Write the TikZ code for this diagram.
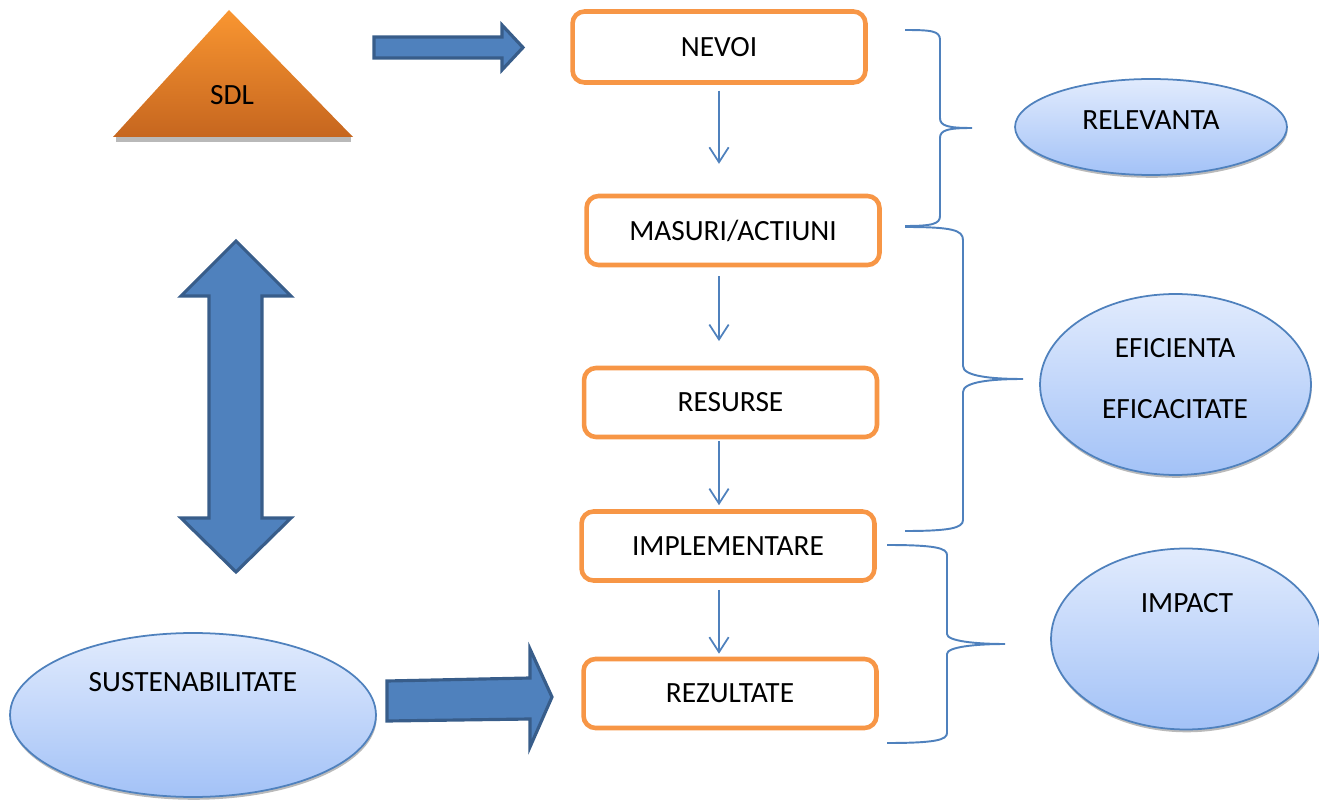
\documentclass[tikz,border=0pt]{standalone}
\usepackage{fontspec}
\setmainfont{Carlito}
\usetikzlibrary{arrows.meta,shapes.geometric,shadows}
\definecolor{boxorange}{HTML}{F79646}
\definecolor{lineblue}{HTML}{4F81BD}
\definecolor{arrowedge}{HTML}{385D8A}
\definecolor{ovaltop}{HTML}{E1EBFD}
\definecolor{ovalbottom}{HTML}{A3C2F7}
\definecolor{sdltop}{HTML}{F99631}
\definecolor{sdlbottom}{HTML}{C6661F}

\begin{document}
\begin{tikzpicture}[x=0.02cm,y=-0.02cm,
  every node/.style={font=\fontsize{16.7}{20}\selectfont},
  stepbox/.style={draw=boxorange,line width=2.6pt,rounded corners=0.24cm,
    fill=white,minimum width=5.86cm,minimum height=1.38cm},
  ovalnode/.style={ellipse,draw=lineblue,line width=1pt,inner sep=0pt,
    top color=ovaltop,bottom color=ovalbottom,
    drop shadow={shadow xshift=0.4pt,shadow yshift=-1.6pt,fill=black!45,opacity=0.6}},
  flow/.style={draw=lineblue,line width=1pt,-{Straight Barb[length=8.5pt,width=11pt]}},
  bigarrow/.style={fill=lineblue,draw=arrowedge,line width=1.8pt,line join=miter},
  bracket/.style={draw=lineblue,line width=1.1pt}]

  \useasboundingbox (0,0) rectangle (1319,800);

  % SDL triangle
  \fill[gray!55] (116,137) rectangle (351,142);
  \shade[top color=sdltop,bottom color=sdlbottom] (113,137) -- (229,10) -- (353,137) -- cycle;
  \node (sdl) at (232,95) {SDL};

  % block arrows
  \draw[bigarrow] (374,37) -- (502,37) -- (502,25) -- (523,47.5) -- (502,70)
    -- (502,58) -- (374,58) -- cycle;
  \draw[bigarrow] (236,241) -- (291,296) -- (262,296) -- (262,518) -- (291,518)
    -- (236,572) -- (181,518) -- (209,518) -- (209,296) -- (181,296) -- cycle;
  \draw[bigarrow] (387,681) -- (530,678) -- (530,649) -- (552,697) -- (530,747)
    -- (530,719) -- (387,721) -- cycle;

  % steps
  \node[stepbox,minimum height=1.42cm] (nevoi) at (719,47) {NEVOI};
  \node[stepbox] (masuri) at (733,230.5) {MASURI/ACTIUNI};
  \node[stepbox] (resurse) at (730.5,402.5) {RESURSE};
  \node[stepbox] (impl) at (728,546) {IMPLEMENTARE};
  \node[stepbox] (rezultate) at (730,693.5) {REZULTATE};

  \draw[flow,shorten <=3.4pt,shorten >=17pt] (nevoi.south) -- (nevoi.south |- masuri.north);
  \draw[flow,shorten <=5pt,shorten >=14pt] (masuri.south -| nevoi.south) -- (resurse.north -| nevoi.south);
  \draw[flow,shorten <=1.2pt,shorten >=2.3pt] (resurse.south -| nevoi.south) -- (impl.north -| nevoi.south);
  \draw[flow,shorten <=4pt,shorten >=1.7pt] (impl.south -| nevoi.south) -- (rezultate.north -| nevoi.south);

  % brackets
  \draw[bracket] (905,30) .. controls (932,30) and (940,31) .. (940,40) -- (940,118)
    .. controls (940,126) and (948,128) .. (972,128)
    .. controls (948,128) and (940,130) .. (940,138) -- (940,216)
    .. controls (940,224) and (932,226) .. (905,226);
  \draw[bracket] (905,227) .. controls (952,227) and (963,230) .. (963,240) -- (963,366)
    .. controls (963,376) and (990,379) .. (1023,379)
    .. controls (990,379) and (963,382) .. (963,392) -- (963,520)
    .. controls (963,528) and (950,531) .. (905,531);
  \draw[bracket] (887,545) .. controls (935,545) and (947,548) .. (947,555) -- (947,634)
    .. controls (947,641) and (975,644) .. (1005,644)
    .. controls (975,644) and (947,647) .. (947,654) -- (947,733)
    .. controls (947,740) and (935,743) .. (887,743);

  % criteria
  \node[ovalnode,minimum width=5.44cm,minimum height=1.92cm] (relevanta) at (1151,127) {};
  \node (relevantalbl) at (1151,120) {RELEVANTA};
  \node[ovalnode,minimum width=5.42cm,minimum height=3.62cm] (eficienta) at (1175.5,384.5) {};
  \node (eficientalbl) at (1175,348) {EFICIENTA};
  \node (eficacitatelbl) at (1175,409) {EFICACITATE};
  \node[ovalnode,minimum width=5.4cm,minimum height=3.62cm] (impact) at (1186,639) {};
  \node (impactlbl) at (1187,603) {IMPACT};
  \node[ovalnode,minimum width=7.32cm,minimum height=3.28cm] (sust) at (193,715) {};
  \node (sustlbl) at (193,682) {SUSTENABILITATE};

\end{tikzpicture}
\end{document}
